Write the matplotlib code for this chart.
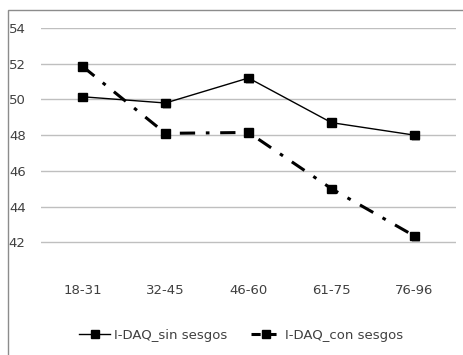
import matplotlib.pyplot as plt
from matplotlib.patches import Rectangle
from matplotlib.lines import Line2D
import matplotlib.patheffects as pe

plt.rcParams['font.family'] = ['Liberation Sans Narrow', 'DejaVu Sans']

groups = ['18-31', '32-45', '46-60', '61-75', '76-96']
sin_sesgos = [50.15, 49.8, 51.2, 48.7, 48.0]
con_sesgos = [51.85, 48.1, 48.15, 45.0, 42.35]
yticks = [42, 44, 46, 48, 50, 52, 54]

fig = plt.figure(figsize=(4.64, 3.55), dpi=100)
# outer chart frame
fig.patches.append(Rectangle((8 / 464, -0.01), 460 / 464, 1 - 10 / 355 + 0.01,
                             transform=fig.transFigure, fill=False,
                             edgecolor='#8c8c8c', linewidth=1.0))

ax = fig.add_axes([41 / 464, 1 - 278 / 355, 415 / 464, 250 / 355])
x = list(range(len(groups)))
shadow = [pe.SimplePatchShadow(offset=(1, -1), alpha=0.3), pe.Normal()]

ax.plot(x, sin_sesgos, color='black', linewidth=1.0)
ax.plot(x, con_sesgos, color='black', linewidth=2.2, dashes=(5, 3.5, 1.2, 3.5))
for vals in (sin_sesgos, con_sesgos):
    ax.plot(x, vals, linestyle='none', marker='s', markersize=6,
            color='black', path_effects=shadow)

ax.set_xlim(-0.5, 4.5)
ax.set_ylim(40, 54)
ax.set_yticks(yticks)
ax.set_xticks(x)
ax.set_xticklabels(groups)
ax.grid(axis='y', color='#bfbfbf', linewidth=1.0)
ax.set_axisbelow(True)
for s in ax.spines.values():
    s.set_visible(False)
ax.tick_params(axis='both', length=0, labelsize=9.5, colors='#404040')
ax.tick_params(axis='y', pad=11)
ax.tick_params(axis='x', pad=4)

handles = [
    Line2D([], [], color='black', linewidth=1.0, marker='s', markersize=6),
    Line2D([], [], color='black', linewidth=2.2, marker='s', markersize=6,
           dashes=(3, 2.2)),
]
fig.legend(handles, ['I-DAQ_sin sesgos', 'I-DAQ_con sesgos'],
           loc='center', bbox_to_anchor=(0.52, 1 - 335 / 355), ncol=2,
           frameon=False, fontsize=9.5, handlelength=2.3, handletextpad=0.3,
           columnspacing=1.8, labelcolor='#404040')

fig.savefig('out.png', dpi=100)
